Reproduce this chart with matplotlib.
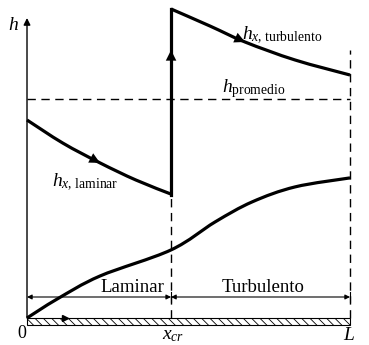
import numpy as np
import matplotlib
matplotlib.use("Agg")
import matplotlib.pyplot as plt
from matplotlib.patches import Rectangle, PathPatch
from matplotlib.path import Path

plt.rcParams['font.family'] = 'Liberation Serif'
plt.rcParams['mathtext.fontset'] = 'custom'
plt.rcParams['mathtext.rm'] = 'Liberation Serif'
plt.rcParams['mathtext.it'] = 'Liberation Serif:italic'
plt.rcParams['hatch.linewidth'] = 0.6

# plate length and transition point
L = 1.0
x_cr = 0.446
h_prom = 0.73

# local coefficient, laminar part
x_lam = [0.0, 0.111, 0.226, 0.337, 0.446]
h_lam = [0.660, 0.583, 0.517, 0.460, 0.413]

# local coefficient, turbulent part
x_tur = [0.446, 0.567, 0.675, 0.830, 1.0]
h_tur = [1.030, 0.973, 0.920, 0.860, 0.810]

# boundary layer thickness
x_bl = [0.0, 0.093, 0.226, 0.446, 0.582, 0.697, 0.830, 1.0]
d_bl = [0.0, 0.063, 0.140, 0.227, 0.320, 0.387, 0.437, 0.467]

fig = plt.figure(figsize=(3.69, 3.45), dpi=100)
ax = fig.add_axes([0, 0, 1, 1])
ax.set_xlim(-0.0836, 1.0588)
ax.set_ylim(-0.09, 1.06)
ax.axis('off')

k = 'black'


def smooth_path(xs, ys):
    # Catmull-Rom through the points, drawn as cubic Bezier segments
    p = np.column_stack([xs, ys])
    ext = np.vstack([p[0], p, p[-1]])
    verts = [p[0]]
    codes = [Path.MOVETO]
    for i in range(len(p) - 1):
        p0, p1, p2, p3 = ext[i], ext[i + 1], ext[i + 2], ext[i + 3]
        verts += [p1 + (p2 - p0) / 6, p2 - (p3 - p1) / 6, p2]
        codes += [Path.CURVE4] * 3
    return Path(verts, codes)


def curve(xs, ys, lw=2.3):
    ax.add_patch(PathPatch(smooth_path(xs, ys), facecolor='none',
                           edgecolor=k, lw=lw, capstyle='butt'))


# axes
ax.annotate('', xy=(0, 1.0), xytext=(0, 0),
            arrowprops=dict(arrowstyle='-|>', color=k, lw=1.0,
                            mutation_scale=10, shrinkA=0, shrinkB=0))
ax.annotate('', xy=(1.075, 0), xytext=(0, 0),
            arrowprops=dict(arrowstyle='-|>', color=k, lw=1.0,
                            mutation_scale=10, shrinkA=0, shrinkB=0))

# plate
ax.add_patch(Rectangle((0, -0.023), L, 0.023, facecolor='white',
                       edgecolor=k, lw=0.8, hatch='\\\\\\\\'))
ax.plot([0.118], [0.0], marker='>', color=k, ms=4)

# curves
curve(x_lam, h_lam)
ax.plot([x_cr, x_cr], [h_lam[-1] - 0.004, h_tur[0]], color=k, lw=2.3,
        solid_capstyle='projecting')
curve(x_tur, h_tur)
curve(x_bl, d_bl)


def mid_arrow(xs, ys, i, f=0.5):
    tx = xs[i] + f * (xs[i + 1] - xs[i])
    ty = ys[i] + f * (ys[i + 1] - ys[i])
    ax.annotate('', xy=(tx, ty), xytext=(xs[i], ys[i]),
                arrowprops=dict(arrowstyle='-|>', color=k, lw=0,
                                mutation_scale=19, shrinkA=0, shrinkB=0))


mid_arrow(x_lam, h_lam, 1, 1.0)
mid_arrow(x_tur, h_tur, 1, 1.0)
ax.annotate('', xy=(x_cr, 0.893), xytext=(x_cr, 0.80),
            arrowprops=dict(arrowstyle='-|>', color=k, lw=0,
                            mutation_scale=19, shrinkA=0, shrinkB=0))

# dashed guides
dash = (0, (6, 4))
ax.plot([0, L], [h_prom, h_prom], color=k, lw=1.0, linestyle=dash)
ax.plot([x_cr, x_cr], [0, h_lam[-1]], color=k, lw=1.0, linestyle=dash)
ax.plot([L, L], [0, 0.893], color=k, lw=1.0, linestyle=dash)

# regime dimension lines
y_dim = 0.07
for a, b in [(0, x_cr), (x_cr, L)]:
    ax.annotate('', xy=(b, y_dim), xytext=(a, y_dim),
                arrowprops=dict(arrowstyle='<|-|>', color=k, lw=0.8,
                                mutation_scale=7, shrinkA=0, shrinkB=0))
for xv in [x_cr, L]:
    ax.plot([xv, xv], [y_dim - 0.017, y_dim + 0.017], color=k, lw=0.8)

ax.text(0.325, y_dim + 0.017, 'Laminar', ha='center',
        va='baseline', fontsize=13.5)
ax.text(0.731, y_dim + 0.017, 'Turbulento', ha='center',
        va='baseline', fontsize=13.5)

# labels
ax.text(-0.043, 0.975, r'$h$', ha='center', va='center', fontsize=14)
ax.text(0.077, 0.44, r'$h_{x,\,\mathrm{laminar}}$', ha='left',
        va='baseline', fontsize=14)
ax.text(0.666, 0.927, r'$h_{x,\,\mathrm{turbulento}}$', ha='left',
        va='baseline', fontsize=14)
ax.text(0.604, 0.753, r'$h_{\mathrm{promedio}}$', ha='left',
        va='baseline', fontsize=14)
ax.text(-0.015, -0.053, '0', ha='center', va='center', fontsize=13)
ax.text(0.418, -0.072, r'$x_{cr}$', ha='left', va='baseline', fontsize=14)
ax.text(0.997, -0.072, r'$L$', ha='center', va='baseline', fontsize=14)

fig.savefig('out.png', dpi=100)
